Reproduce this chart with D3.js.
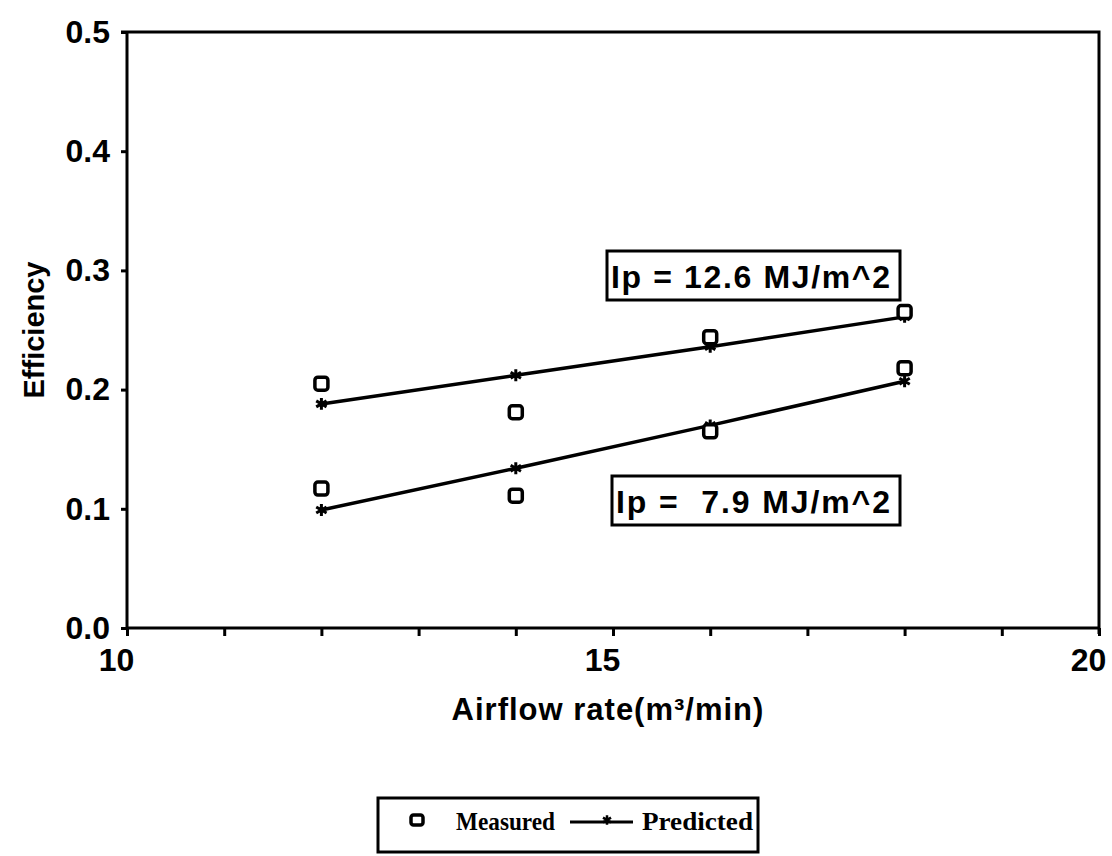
<!DOCTYPE html>
<html><head><meta charset="utf-8">
<script src="https://cdn.jsdelivr.net/npm/d3@7"></script>
<style>
html,body{margin:0;padding:0;background:#fff;}
svg{display:block;}
text{fill:#000;}
</style></head>
<body><svg id="c" width="1112" height="856"></svg>
<script>
const airflow = [12, 14, 16, 18];
const measuredHigh = [0.205, 0.181, 0.244, 0.265];
const predictedHigh = [0.188, 0.212, 0.236, 0.261];
const measuredLow = [0.117, 0.111, 0.165, 0.218];
const predictedLow = [0.099, 0.134, 0.170, 0.207];
const yTicks = [0.0, 0.1, 0.2, 0.3, 0.4, 0.5];
const xMajorTicks = [10, 15, 20];
const xMinorTicks = [10, 11, 12, 13, 14, 15, 16, 17, 18, 19, 20];
const labelHigh = "Ip = 12.6 MJ/m^2";
const labelLow = "Ip =  7.9 MJ/m^2";
const legendItems = ["Measured", "Predicted"];

const svg = d3.select("#c");
const L = 127, R = 1099, T = 32, B = 628;
const x = d3.scaleLinear().domain([10, 20]).range([L, R]);
const y = d3.scaleLinear().domain([0, 0.5]).range([B, T]);
const sans = "Arial, 'Liberation Sans', sans-serif";
const serif = "'Liberation Serif', 'Times New Roman', serif";

// frame top/right
svg.append("path").attr("d", `M${L-6},${T}H${R}V${B+6}`).attr("fill","none").attr("stroke","#000").attr("stroke-width",3);

// y axis
const yAxis = svg.append("g").attr("transform", `translate(${L},0)`)
  .call(d3.axisLeft(y).tickValues(yTicks).tickFormat(d3.format(".1f")).tickSize(6).tickPadding(11));
yAxis.select(".domain").attr("stroke-width",3).attr("d", `M0,${T}V${B}`);
yAxis.selectAll(".tick line").attr("stroke-width",3);
yAxis.selectAll(".tick text").attr("font-family",sans).attr("font-weight","bold").attr("font-size",32);

// x axis
const xAxis = svg.append("g").attr("transform", `translate(0,${B})`)
  .call(d3.axisBottom(x).tickValues(xMinorTicks).tickFormat(d => xMajorTicks.includes(d) ? d : "").tickSize(8).tickPadding(12));
xAxis.select(".domain").attr("stroke-width",3).attr("d", `M${L},0H${R}`);
xAxis.selectAll(".tick line").attr("stroke-width",3);
xAxis.selectAll(".tick text").attr("font-family",sans).attr("font-weight","bold").attr("font-size",32).attr("dx",-11);

// axis titles
svg.append("text").attr("transform","translate(44,330) rotate(-90)").attr("text-anchor","middle")
  .attr("font-family",sans).attr("font-weight","bold").attr("font-size",29).text("Efficiency");
svg.append("text").attr("x",608).attr("y",720).attr("text-anchor","middle")
  .attr("font-family",sans).attr("font-weight","bold").attr("font-size",31).attr("letter-spacing",1).text("Airflow rate(m³/min)");

// lines
const line = d3.line().x((d,i)=>x(airflow[i])).y(d=>y(d));
[predictedHigh, predictedLow].forEach(s=>{
  svg.append("path").attr("d", line(s)).attr("fill","none").attr("stroke","#000").attr("stroke-width",3.5);
  svg.selectAll(null).data(s).enter().append("path")
    .attr("d", d3.symbol(d3.symbolAsterisk, 100))
    .attr("transform",(d,i)=>`translate(${x(airflow[i])},${y(d)})`)
    .attr("fill","none").attr("stroke","#000").attr("stroke-width",3);
});
[measuredHigh, measuredLow].forEach(s=>{
  svg.selectAll(null).data(s).enter().append("rect")
    .attr("x",(d,i)=>x(airflow[i])-6.5).attr("y",d=>y(d)-6.5).attr("width",13).attr("height",13).attr("rx",3)
    .attr("fill","#fff").attr("stroke","#000").attr("stroke-width",3.5);
});

// annotation boxes
function label(txt, bx, by, bw, bh){
  svg.append("rect").attr("x",bx).attr("y",by).attr("width",bw).attr("height",bh)
    .attr("fill","#fff").attr("stroke","#000").attr("stroke-width",3);
  svg.append("text").attr("x",bx+4).attr("y",by+bh/2+12).attr("font-family",sans).attr("font-weight","bold")
    .attr("font-size",32).attr("textLength",bw-14).attr("xml:space","preserve").style("white-space","pre").text(txt);
}
label(labelHigh, 607, 251, 293, 49);
label(labelLow, 612, 476, 288, 49);

// legend
svg.append("rect").attr("x",378).attr("y",798).attr("width",380).attr("height",54)
  .attr("fill","#fff").attr("stroke","#000").attr("stroke-width",3);
svg.append("rect").attr("x",411).attr("y",815).attr("width",12).attr("height",10).attr("rx",2.5)
  .attr("fill","#fff").attr("stroke","#000").attr("stroke-width",3.5);
svg.append("text").attr("x",456).attr("y",830).attr("font-family",serif).attr("font-weight","bold")
  .attr("font-size",25).attr("textLength",99).attr("lengthAdjust","spacingAndGlyphs").text(legendItems[0]);
svg.append("line").attr("x1",570).attr("x2",633).attr("y1",822).attr("y2",822).attr("stroke","#000").attr("stroke-width",3);
svg.append("path").attr("d", d3.symbol(d3.symbolAsterisk, 60)).attr("transform","translate(607,820)")
  .attr("fill","none").attr("stroke","#000").attr("stroke-width",2.5);
svg.append("text").attr("x",642).attr("y",830).attr("font-family",serif).attr("font-weight","bold")
  .attr("font-size",25).attr("textLength",111).attr("lengthAdjust","spacingAndGlyphs").text(legendItems[1]);
</script></body></html>
